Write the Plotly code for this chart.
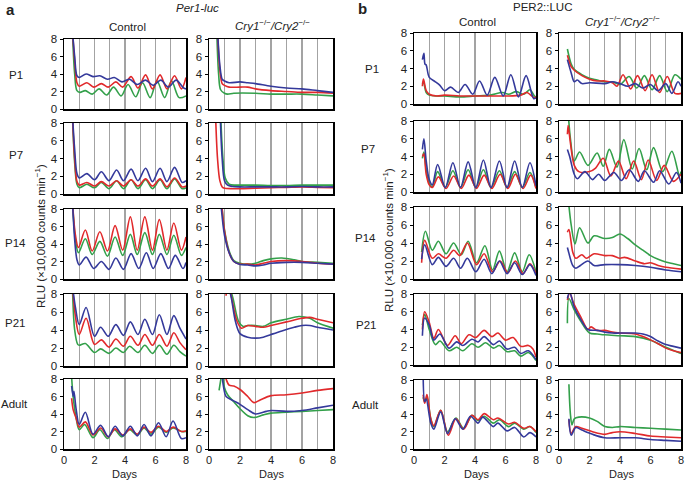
import plotly.graph_objects as go

# ---------------- data: (day, RLU x10,000 counts/min) ----------------
# Panel a (Per1-luc) -- Control column
a_p1_ctl_blue = [(0.55,9),(0.7,6),(0.85,3.8),(1.0,3.6),(1.45,4.0),(1.9,3.7),(2.35,3.8),(2.85,3.4),(3.3,3.6),(3.8,3.1),(4.3,3.4),(4.8,2.8),(5.35,3.3),(5.85,2.7),(6.35,3.3),(6.85,2.5),(7.35,3.3),(7.85,2.4),(8.0,2.3)]
a_p1_ctl_red = [(0.55,9),(0.7,5.5),(0.85,3.0),(1.0,2.6),(1.5,3.0),(1.95,2.5),(2.45,2.9),(2.9,2.5),(3.4,3.1),(3.85,2.5),(4.4,3.7),(4.85,2.4),(5.35,3.9),(5.8,2.3),(6.3,3.9),(6.75,2.3),(7.25,3.8),(7.7,2.3),(8.0,3.6)]
a_p1_ctl_green = [(0.55,9),(0.7,4),(0.85,2.1),(1.05,1.9),(1.4,2.1),(1.85,1.7),(2.3,2.3),(2.8,1.6),(3.25,2.5),(3.75,1.5),(4.2,2.8),(4.7,1.4),(5.15,3.0),(5.65,1.3),(6.1,3.2),(6.6,1.3),(7.05,3.2),(7.55,1.3),(8.0,1.5)]
a_p7_ctl_blue = [(0.55,9),(0.7,5),(0.85,2.3),(1.0,1.8),(1.5,2.3),(2.0,1.6),(2.45,2.5),(2.95,1.5),(3.45,2.7),(3.9,1.5),(4.4,2.8),(4.85,1.5),(5.35,2.9),(5.8,1.4),(6.3,2.9),(6.75,1.4),(7.25,3.0),(7.75,1.3),(8.0,1.5)]
a_p7_ctl_red = [(0.55,9),(0.7,4),(0.85,1.4),(1.0,1.0),(1.5,1.3),(2.0,0.9),(2.45,1.4),(2.95,0.9),(3.45,1.5),(3.9,0.9),(4.4,1.6),(4.85,0.9),(5.35,1.7),(5.8,0.9),(6.3,1.7),(6.75,0.8),(7.25,1.8),(7.75,0.8),(8.0,0.9)]
a_p7_ctl_green = [(0.55,9),(0.7,3.5),(0.85,1.1),(1.0,0.7),(1.5,1.1),(2.0,0.7),(2.45,1.3),(2.95,0.6),(3.45,1.5),(3.9,0.6),(4.4,1.6),(4.85,0.6),(5.35,1.6),(5.8,0.6),(6.3,1.6),(6.75,0.6),(7.25,1.7),(7.75,0.6),(8.0,0.7)]
a_p14_ctl_blue = [(0.55,9),(0.7,4.5),(0.85,2.2),(1.0,1.6),(1.45,2.5),(1.95,1.2),(2.45,2.0),(2.95,1.1),(3.4,2.4),(3.9,1.1),(4.4,2.9),(4.9,1.2),(5.4,3.0),(5.85,1.2),(6.35,2.9),(6.85,1.2),(7.3,2.7),(7.8,1.2),(8.0,1.9)]
a_p14_ctl_red = [(0.55,9),(0.75,5),(0.95,3.6),(1.4,5.6),(1.85,3.2),(2.35,5.4),(2.85,3.2),(3.35,6.1),(3.85,3.3),(4.35,7.1),(4.8,3.3),(5.3,7.1),(5.8,3.3),(6.25,6.8),(6.75,3.3),(7.2,6.4),(7.7,3.3),(8.0,4.8)]
a_p14_ctl_green = [(0.55,9),(0.75,4.5),(0.95,3.0),(1.4,4.6),(1.85,2.8),(2.35,4.3),(2.85,2.6),(3.35,4.8),(3.85,2.7),(4.35,5.1),(4.8,2.8),(5.3,5.3),(5.8,2.8),(6.25,5.1),(6.75,2.8),(7.2,5.0),(7.7,2.7),(8.0,3.6)]
a_p21_ctl_blue = [(0.55,9),(0.75,6.5),(1.0,4.6),(1.45,6.5),(2.0,3.3),(2.4,4.3),(2.9,3.3),(3.4,4.6),(3.9,3.4),(4.35,4.9),(4.85,3.5),(5.3,5.2),(5.8,3.5),(6.25,5.7),(6.75,3.5),(7.2,5.6),(7.6,4.2),(8.0,3.0)]
a_p21_ctl_red = [(0.55,9),(0.75,5.5),(1.0,3.5),(1.45,5.3),(2.0,2.4),(2.45,2.9),(2.95,2.1),(3.4,3.0),(3.9,2.2),(4.35,3.3),(4.85,2.3),(5.3,3.5),(5.8,2.3),(6.25,3.5),(6.75,2.2),(7.2,3.7),(7.6,2.6),(8.0,1.8)]
a_p21_ctl_green = [(0.55,9),(0.7,4),(0.9,2.4),(1.0,2.3),(1.4,2.5),(2.0,1.5),(2.4,1.9),(2.95,1.4),(3.4,2.0),(3.9,1.5),(4.3,2.2),(4.85,1.5),(5.3,2.3),(5.8,1.4),(6.25,2.3),(6.75,1.3),(7.2,2.3),(7.6,1.6),(8.0,1.1)]
a_ad_ctl_blue = [(0.5,7.2),(0.6,6.0),(0.65,6.6),(0.8,4.5),(1.0,2.8),(1.4,4.2),(1.9,1.7),(2.4,2.7),(2.9,1.4),(3.35,2.6),(3.85,1.5),(4.35,2.6),(4.8,1.5),(5.25,2.8),(5.7,1.5),(6.2,3.0),(6.7,1.4),(7.15,3.2),(7.7,1.2),(8.0,1.3)]
a_ad_ctl_red = [(0.5,5.8),(0.6,4.5),(0.8,3.5),(1.0,2.5),(1.4,3.1),(1.9,1.6),(2.4,2.4),(2.9,1.4),(3.35,2.3),(3.85,1.6),(4.35,2.3),(4.8,1.7),(5.25,2.5),(5.7,1.9),(6.2,2.6),(6.7,2.0),(7.15,2.5),(7.7,2.0),(8.0,2.1)]
a_ad_ctl_green = [(0.5,8.2),(0.6,6.0),(0.8,3.5),(1.0,2.2),(1.35,2.8),(1.9,1.3),(2.35,2.2),(2.85,1.2),(3.3,2.2),(3.8,1.4),(4.3,2.2),(4.8,1.6),(5.25,2.4),(5.7,1.7),(6.2,2.5),(6.7,1.9),(7.15,2.4),(7.7,2.0),(8.0,2.0)]

# Panel a (Per1-luc) -- Cry1-/-/Cry2-/- column
a_p1_cry_blue = [(0.55,9),(0.7,5),(0.85,3.4),(1.0,3.2),(1.3,3.0),(2.0,3.1),(2.5,3.0),(3.0,2.9),(4.0,2.6),(5.0,2.4),(6.0,2.3),(7.0,2.1),(8.0,1.9)]
a_p1_cry_red = [(0.55,9),(0.7,4.5),(0.85,2.9),(1.0,2.7),(1.3,2.5),(2.0,2.5),(2.5,2.5),(3.0,2.3),(4.0,2.1),(5.0,2.0),(6.0,1.9),(7.0,1.9),(8.0,1.8)]
a_p1_cry_green = [(0.5,9),(0.62,4),(0.75,2.2),(1.0,1.8),(1.2,1.7),(1.6,1.8),(3.0,1.8),(4.0,1.7),(5.0,1.7),(6.0,1.7),(7.0,1.6),(8.0,1.5)]
a_p7_cry_blue = [(0.72,9),(0.85,4),(1.0,1.5),(1.2,1.0),(1.5,0.85),(2.0,0.8),(3.0,0.8),(4.0,0.8),(5.0,0.8),(6.0,0.85),(7.0,0.8),(8.0,0.8)]
a_p7_cry_red = [(0.42,9),(0.55,4),(0.7,1.5),(0.85,0.8),(1.0,0.65),(1.5,0.6),(2.0,0.6),(3.0,0.65),(4.0,0.7),(5.0,0.75),(6.0,0.8),(7.0,0.75),(8.0,0.7)]
a_p7_cry_green = [(0.75,9),(0.9,4),(1.05,1.8),(1.3,1.1),(1.7,1.0),(2.0,1.0),(3.0,1.0),(4.0,0.95),(5.0,0.95),(6.0,1.0),(7.0,1.0),(8.0,1.0)]
a_p14_cry_blue = [(0.75,9),(1.0,5),(1.3,3),(1.6,2.0),(2.0,1.65),(2.5,1.6),(3.0,1.5),(3.5,1.6),(4.0,1.8),(5.0,1.9),(6.0,1.9),(7.0,1.8),(8.0,1.7)]
a_p14_cry_red = [(0.8,9),(1.0,5.5),(1.3,3),(1.6,2.0),(2.0,1.7),(2.5,1.7),(3.0,1.6),(3.5,1.8),(4.0,2.0),(5.0,2.1),(6.0,2.0),(7.0,1.8),(8.0,1.7)]
a_p14_cry_green = [(0.8,9),(1.0,5.6),(1.3,3.2),(1.6,2.1),(2.0,1.8),(2.5,1.7),(3.0,1.8),(3.5,2.1),(4.0,2.3),(4.7,2.4),(5.5,2.2),(6.0,2.0),(7.0,1.9),(8.0,1.8)]
a_p21_cry_blue = [(1.25,9),(1.45,7.5),(1.7,5),(2.0,3.6),(2.5,3.2),(3.0,3.1),(3.5,3.2),(4.0,3.5),(4.7,3.9),(5.5,4.3),(6.0,4.5),(6.5,4.5),(7.0,4.3),(8.0,4.0)]
a_p21_cry_red = [(1.1,7.8),(1.2,9),(1.4,8),(1.8,5),(2.1,4.2),(2.5,4.5),(3.0,4.4),(3.5,4.3),(4.0,4.5),(5.0,4.9),(6.0,5.3),(6.5,5.4),(7.0,5.2),(8.0,4.8)]
a_p21_cry_green = [(1.3,9),(1.55,7.5),(1.9,5),(2.2,4.4),(2.5,4.5),(3.0,4.5),(3.5,4.4),(4.0,4.8),(5.0,5.2),(5.8,5.5),(6.5,5.3),(7.0,4.8),(8.0,4.2)]
a_ad_cry_blue = [(0.8,9),(0.95,7),(1.1,6.0),(1.6,5.5),(2.0,5.1),(2.5,4.5),(3.0,4.0),(3.7,4.3),(4.0,4.4),(5.0,4.3),(6.0,4.4),(7.0,4.7),(8.0,5.0)]
a_ad_cry_red = [(0.95,9),(1.1,8),(1.3,7.3),(1.6,7.2),(2.0,6.8),(2.5,6.0),(2.9,5.3),(3.3,5.6),(4.0,6.1),(5.0,6.2),(6.0,6.4),(7.0,6.7),(8.0,6.9)]
a_ad_cry_green = [(0.65,6.7),(0.75,7.8),(0.85,9),(1.0,7.0),(1.2,6.2),(1.6,5.4),(2.0,4.6),(2.5,3.8),(2.9,3.6),(3.5,3.9),(4.0,4.1),(5.0,4.2),(6.0,4.3),(7.0,4.4),(8.0,4.5)]

# Panel b (PER2::LUC) -- Control column
b_p1_ctl_blue = [(0.55,5.0),(0.65,5.7),(0.72,4.5),(0.8,4.4),(1.0,3.0),(1.4,2.5),(1.7,2.1),(2.0,1.5),(2.4,1.9),(2.9,1.3),(3.35,2.2),(3.85,1.1),(4.3,2.6),(4.8,1.0),(5.3,3.0),(5.85,0.9),(6.35,3.3),(6.85,0.8),(7.35,3.2),(7.85,0.6),(8.0,0.7)]
b_p1_ctl_red = [(0.55,2.0),(0.62,2.8),(0.8,1.5),(1.0,1.1),(1.5,0.9),(2.0,1.0),(3.0,0.9),(4.0,0.9),(5.0,0.9),(6.0,0.9),(7.0,1.0),(7.4,1.3),(7.9,0.7),(8.0,0.8)]
b_p1_ctl_green = [(0.55,2.3),(0.62,2.5),(0.8,1.3),(1.0,1.0),(1.5,0.9),(2.0,0.9),(3.0,0.8),(4.0,0.9),(5.0,1.0),(5.8,1.3),(6.2,1.1),(6.7,1.4),(7.2,1.1),(7.6,1.6),(7.9,0.9),(8.0,0.8)]
b_p7_ctl_blue = [(0.55,4.8),(0.65,6.0),(0.8,3.5),(1.0,1.4),(1.2,0.8),(1.55,3.1),(2.05,0.5),(2.55,3.3),(3.05,0.5),(3.55,3.4),(4.05,0.5),(4.55,3.6),(5.05,0.5),(5.6,3.5),(6.1,0.5),(6.6,3.5),(7.1,0.5),(7.6,3.3),(8.0,0.7)]
b_p7_ctl_red = [(0.55,4.0),(0.65,4.3),(0.8,2.0),(1.0,0.8),(1.2,0.5),(1.6,1.7),(2.1,0.4),(2.6,1.8),(3.1,0.4),(3.6,1.9),(4.1,0.4),(4.6,1.9),(5.1,0.4),(5.65,2.0),(6.15,0.4),(6.65,2.0),(7.15,0.4),(7.65,1.9),(8.0,0.4)]
b_p7_ctl_green = [(0.55,3.8),(0.65,4.5),(0.8,2.5),(1.0,1.0),(1.2,0.6),(1.55,2.3),(2.05,0.5),(2.55,2.4),(3.05,0.5),(3.55,2.5),(4.05,0.5),(4.55,2.5),(5.05,0.5),(5.6,2.4),(6.1,0.5),(6.6,2.3),(7.1,0.5),(7.6,2.2),(8.0,0.5)]
b_p14_ctl_blue = [(0.5,2.2),(0.7,3.8),(1.2,1.6),(1.6,2.4),(2.1,1.4),(2.6,2.3),(3.05,1.2),(3.5,2.3),(4.05,0.8),(4.6,2.2),(5.1,0.6),(5.6,2.0),(6.1,0.6),(6.6,1.8),(7.1,0.5),(7.6,1.6),(8.0,0.4)]
b_p14_ctl_red = [(0.5,1.8),(0.7,4.3),(1.2,2.3),(1.6,2.8),(2.1,2.3),(2.6,3.2),(3.0,2.6),(3.5,4.0),(4.1,1.6),(4.6,2.8),(5.15,0.8),(5.65,2.0),(6.15,0.7),(6.65,2.0),(7.15,0.6),(7.6,1.7),(8.0,0.6)]
b_p14_ctl_green = [(0.5,3.0),(0.75,5.3),(1.2,3.2),(1.6,4.2),(2.1,2.8),(2.6,4.0),(3.1,2.7),(3.55,4.2),(4.1,1.8),(4.65,3.7),(5.15,1.0),(5.6,3.1),(6.1,0.8),(6.6,2.9),(7.1,0.8),(7.55,2.7),(8.0,0.8)]
b_p21_ctl_blue = [(0.55,3.3),(0.7,5.3),(1.0,4.5),(1.3,2.8),(1.7,3.5),(2.3,1.9),(2.8,2.6),(3.2,2.2),(3.8,2.9),(4.2,2.6),(4.6,3.2),(5.2,2.3),(5.6,2.7),(6.1,1.8),(6.6,2.0),(7.0,1.3),(7.5,1.6),(8.0,0.6)]
b_p21_ctl_red = [(0.55,4.0),(0.7,6.0),(1.0,4.8),(1.3,3.0),(1.6,4.0),(2.2,2.2),(2.7,3.3),(3.1,2.4),(3.6,3.4),(4.05,3.1),(4.6,3.9),(5.1,3.2),(5.5,3.6),(6.0,2.8),(6.5,3.1),(7.0,2.1),(7.5,2.2),(7.8,1.8),(8.0,0.9)]
b_p21_ctl_green = [(0.55,4.5),(0.7,5.7),(1.0,4.0),(1.4,2.3),(1.7,2.7),(2.3,1.6),(2.8,2.0),(3.2,1.6),(3.8,2.4),(4.2,2.0),(4.7,2.5),(5.2,1.9),(5.6,2.2),(6.1,1.5),(6.6,1.6),(7.0,1.0),(7.5,1.4),(8.0,0.5)]
b_ad_ctl_blue = [(0.6,8.5),(0.7,5.5),(0.8,5.8),(1.1,3.0),(1.3,2.3),(1.75,4.3),(2.2,1.8),(2.7,3.5),(3.2,2.3),(3.7,3.8),(4.2,3.0),(4.5,3.7),(5.2,2.6),(5.5,3.0),(6.1,2.1),(6.6,2.5),(7.2,1.4),(7.6,1.9),(8.0,1.4)]
b_ad_ctl_red = [(0.6,6.3),(0.7,5.3),(0.85,6.3),(1.1,3.5),(1.3,2.7),(1.75,4.5),(2.25,1.6),(2.75,3.5),(3.25,2.3),(3.8,3.9),(4.2,3.4),(4.6,4.1),(5.2,3.4),(5.5,3.6),(6.2,2.9),(6.6,3.1),(7.2,2.4),(7.6,2.6),(8.0,2.0)]
b_ad_ctl_green = [(0.6,6.0),(0.7,5.5),(0.85,6.0),(1.1,3.5),(1.3,2.6),(1.75,4.5),(2.2,2.0),(2.75,3.6),(3.25,2.4),(3.8,3.9),(4.2,3.3),(4.6,3.8),(5.2,3.0),(5.6,3.4),(6.2,2.6),(6.6,3.0),(7.2,2.3),(7.6,2.6),(8.0,1.9)]

# Panel b (PER2::LUC) -- Cry1-/-/Cry2-/- column
b_p1_cry_blue = [(0.55,5.0),(0.8,3.5),(1.0,2.5),(1.2,2.7),(1.5,2.3),(2.0,2.4),(3.0,2.3),(3.5,2.5),(4.0,2.3),(4.5,2.0),(5.0,2.3),(5.5,1.8),(6.0,2.2),(6.5,1.5),(7.0,2.3),(7.4,1.2),(7.8,2.5),(8.0,2.0)]
b_p1_cry_red = [(0.55,5.5),(0.8,4.2),(1.0,3.8),(1.5,3.2),(2.0,2.8),(2.5,2.6),(3.0,2.6),(3.5,2.4),(3.8,2.0),(4.2,3.3),(4.7,1.7),(5.15,3.2),(5.65,1.5),(6.1,3.3),(6.6,1.3),(7.1,3.1),(7.6,1.2),(8.0,1.2)]
b_p1_cry_green = [(0.55,6.2),(0.8,4.5),(1.0,3.9),(1.5,3.3),(2.0,2.9),(2.5,2.7),(3.0,2.5),(3.5,2.5),(4.0,2.2),(4.6,3.1),(5.1,1.8),(5.6,3.2),(6.1,1.6),(6.6,3.2),(7.1,1.4),(7.6,3.3),(8.0,2.8)]
b_p7_cry_blue = [(0.55,4.8),(0.7,4.0),(1.0,2.0),(1.2,1.5),(1.7,2.3),(2.2,1.4),(2.6,2.0),(3.0,1.3),(3.6,2.2),(4.1,1.3),(4.6,2.5),(5.2,1.2),(5.6,2.4),(6.2,1.1),(6.6,2.4),(7.2,0.9),(7.7,2.2),(8.0,1.0)]
b_p7_cry_red = [(0.55,6.5),(0.6,7.5),(0.75,5.5),(1.0,3.0),(1.3,2.3),(2.0,2.3),(2.4,2.7),(2.9,3.8),(3.4,1.8),(3.9,3.5),(4.4,1.5),(4.9,3.5),(5.4,1.4),(5.85,3.6),(6.4,1.3),(6.9,3.0),(7.5,1.2),(8.0,2.0)]
b_p7_cry_green = [(0.6,9),(0.75,6),(1.0,3.5),(1.35,4.5),(1.9,3.0),(2.5,4.4),(2.9,2.9),(3.3,4.8),(3.8,2.8),(4.25,5.9),(4.8,2.6),(5.25,4.9),(5.75,2.5),(6.2,5.0),(6.8,2.3),(7.4,4.6),(7.9,1.8),(8.0,2.3)]
b_p14_cry_blue = [(0.55,3.5),(0.6,3.2),(0.9,1.5),(1.1,1.2),(1.4,1.5),(1.9,2.0),(2.3,1.5),(3.0,1.6),(4.0,1.6),(5.0,1.5),(6.0,1.3),(7.0,1.0),(8.0,0.8)]
b_p14_cry_red = [(0.55,5.2),(0.65,5.5),(0.9,3.0),(1.1,2.3),(1.5,2.7),(1.8,2.3),(2.3,2.8),(3.0,2.6),(3.5,2.6),(4.0,2.3),(4.3,2.4),(5.0,2.0),(5.6,1.7),(6.0,1.8),(6.5,1.5),(7.0,1.3),(8.0,1.1)]
b_p14_cry_green = [(0.6,9),(0.8,6),(1.05,3.9),(1.35,5.7),(1.9,4.0),(2.3,4.8),(3.0,4.5),(3.5,4.6),(4.0,5.0),(4.5,4.5),(5.0,3.8),(5.5,3.2),(6.0,2.6),(6.5,2.2),(7.0,1.9),(7.5,1.7),(8.0,1.5)]
b_p21_cry_blue = [(0.55,7.5),(0.7,8.2),(1.0,6.5),(1.4,5.2),(1.9,4.0),(2.5,3.9),(3.0,3.7),(3.5,3.6),(4.0,3.6),(5.0,3.6),(5.5,3.5),(6.0,3.2),(6.5,2.7),(7.0,2.3),(7.5,2.1),(8.0,1.9)]
b_p21_cry_red = [(0.55,7.3),(0.7,8.1),(1.0,6.8),(1.4,5.5),(1.9,4.0),(2.1,4.3),(2.5,3.9),(3.0,3.9),(3.5,3.7),(4.0,3.6),(5.0,3.5),(5.8,3.0),(6.5,2.4),(7.0,1.9),(7.5,1.6),(8.0,1.4)]
b_p21_cry_green = [(0.55,4.7),(0.65,7.5),(1.0,6.2),(1.4,5.0),(2.0,3.6),(2.5,3.5),(3.0,3.4),(4.0,3.3),(5.0,3.2),(6.0,2.8),(7.0,2.0),(8.0,1.3)]
b_ad_cry_blue = [(0.65,3.5),(0.8,1.6),(1.1,2.5),(1.5,2.2),(2.2,1.7),(3.0,1.3),(4.0,1.3),(5.0,1.3),(6.0,1.1),(7.0,1.0),(8.0,0.9)]
b_ad_cry_red = [(0.65,3.4),(0.8,1.8),(1.1,2.6),(1.5,2.4),(2.2,2.0),(3.0,1.7),(3.5,1.9),(4.0,2.0),(5.0,1.8),(6.0,1.5),(7.0,1.4),(8.0,1.3)]
b_ad_cry_green = [(0.65,7.5),(0.75,4.0),(0.85,2.8),(1.0,3.5),(1.3,3.7),(2.0,3.6),(2.5,3.2),(3.0,2.6),(3.5,2.5),(4.0,2.6),(5.0,2.5),(6.0,2.4),(7.0,2.3),(8.0,2.2)]

row_labels = ["P1", "P7", "P14", "P21", "Adult"]
day_ticks = [0, 1, 2, 3, 4, 5, 6, 7, 8]
day_tick_text = ["0", "", "2", "", "4", "", "6", "", "8"]
y_ticks = [0, 2, 4, 6, 8]

# ---------------- layout geometry (pixels) ----------------
W, H = 685, 480
BLUE, RED, GREEN = "#34399b", "#e1292b", "#33a04a"
FONT = "Liberation Sans, Arial, sans-serif"
GRID = "#a3a3a3"

a_cols = [(64, 186), (209, 333)]
b_cols = [(414, 536), (559, 681)]
a_rows = [(39, 109), (123, 194), (209, 279), (294, 366), (379, 449)]
b_rows = [(33, 104), (121, 192), (207, 279), (294, 365), (380, 449)]

panels = [
    (a_cols, a_rows, [
        ((a_p1_ctl_green, a_p1_ctl_red, a_p1_ctl_blue), (a_p1_cry_green, a_p1_cry_red, a_p1_cry_blue)),
        ((a_p7_ctl_green, a_p7_ctl_red, a_p7_ctl_blue), (a_p7_cry_green, a_p7_cry_red, a_p7_cry_blue)),
        ((a_p14_ctl_green, a_p14_ctl_red, a_p14_ctl_blue), (a_p14_cry_green, a_p14_cry_red, a_p14_cry_blue)),
        ((a_p21_ctl_green, a_p21_ctl_red, a_p21_ctl_blue), (a_p21_cry_green, a_p21_cry_red, a_p21_cry_blue)),
        ((a_ad_ctl_green, a_ad_ctl_red, a_ad_ctl_blue), (a_ad_cry_green, a_ad_cry_red, a_ad_cry_blue)),
    ]),
    (b_cols, b_rows, [
        ((b_p1_ctl_green, b_p1_ctl_red, b_p1_ctl_blue), (b_p1_cry_green, b_p1_cry_red, b_p1_cry_blue)),
        ((b_p7_ctl_green, b_p7_ctl_red, b_p7_ctl_blue), (b_p7_cry_green, b_p7_cry_red, b_p7_cry_blue)),
        ((b_p14_ctl_green, b_p14_ctl_red, b_p14_ctl_blue), (b_p14_cry_green, b_p14_cry_red, b_p14_cry_blue)),
        ((b_p21_ctl_green, b_p21_ctl_red, b_p21_ctl_blue), (b_p21_cry_green, b_p21_cry_red, b_p21_cry_blue)),
        ((b_ad_ctl_green, b_ad_ctl_red, b_ad_ctl_blue), (b_ad_cry_green, b_ad_cry_red, b_ad_cry_blue)),
    ]),
]

fig = go.Figure()
layout = {}
idx = 0
for cols, rows, data_rows in panels:
    for r, (rt, rb) in enumerate(rows):
        for c, (cl, cr) in enumerate(cols):
            idx += 1
            sfx = "" if idx == 1 else str(idx)
            bottom = (r == len(rows) - 1)
            for series, color in zip(data_rows[r][c], (GREEN, RED, BLUE)):
                fig.add_trace(go.Scatter(
                    x=[p[0] for p in series], y=[p[1] for p in series],
                    xaxis="x" + sfx, yaxis="y" + sfx, mode="lines",
                    line=dict(color=color, width=1.6, shape="spline", smoothing=0.9),
                    showlegend=False, hoverinfo="skip"))
            layout["xaxis" + sfx] = dict(
                domain=[cl / W, cr / W], anchor="y" + sfx, range=[0, 8],
                tickmode="array", tickvals=day_ticks, ticktext=day_tick_text,
                showticklabels=bottom, ticks="",
                automargin=False, ticklabeloverflow="allow",
                showgrid=True, gridcolor=GRID, gridwidth=1.3,
                showline=True, mirror=True, linecolor="black", linewidth=1.5,
                zeroline=False, fixedrange=True,
                tickfont=dict(family=FONT, size=11, color="#222"))
            layout["yaxis" + sfx] = dict(
                domain=[1 - rb / H, 1 - rt / H], anchor="x" + sfx, range=[0, 8],
                tickmode="array", tickvals=y_ticks, ticks="outside", ticklen=3,
                tickcolor="black", showgrid=False, zeroline=False, automargin=False,
                showline=True, mirror=True, linecolor="black", linewidth=1.5,
                fixedrange=True, tickfont=dict(family=FONT, size=11.5, color="#222"))

def ann(text, x, y, size=11.5, angle=0, bold=False):
    return dict(text=("<b>%s</b>" % text) if bold else text, x=x / W, y=1 - y / H,
                xref="paper", yref="paper", showarrow=False, textangle=angle,
                xanchor="center", yanchor="middle",
                font=dict(family=FONT, size=size, color="#222"))

cry_label = "<i>Cry1</i><sup>−/−</sup><i>/Cry2</i><sup>−/−</sup>"
annotations = [
    ann("a", 10, 9, size=15, bold=True),
    ann("<i>Per1-luc</i>", 197, 8),
    ann("Control", 128, 27),
    ann(cry_label, 272, 25),
    ann("b", 362, 8, size=15, bold=True),
    ann("PER2::LUC", 542, 7),
    ann("Control", 477, 22),
    ann(cry_label, 622, 21),
    ann("RLU (×10,000 counts min<sup>−1</sup>)", 40, 236, angle=-90),
    ann("RLU (×10,000 counts min<sup>−1</sup>)", 388, 240, angle=-90),
    ann("Days", 125, 474, size=11),
    ann("Days", 272, 474, size=11),
    ann("Days", 477, 474, size=11),
    ann("Days", 622, 474, size=11),
]
a_label_pos = [(16, 75), (16, 155), (16, 243), (15, 323), (14, 404)]
b_label_pos = [(372, 69), (368, 149), (366, 238), (366, 325), (366, 405)]
for lab, (x, y) in zip(row_labels, a_label_pos):
    annotations.append(ann(lab, x, y))
for lab, (x, y) in zip(row_labels, b_label_pos):
    annotations.append(ann(lab, x, y))

fig.update_layout(
    width=W, height=H, margin=dict(l=0, r=0, t=0, b=0, autoexpand=False),
    paper_bgcolor="white", plot_bgcolor="white",
    annotations=annotations, **layout)

fig.write_html("out.html", config={"displayModeBar": False, "staticPlot": True},
               post_script="document.body.style.margin='0';document.body.style.overflow='hidden';")
